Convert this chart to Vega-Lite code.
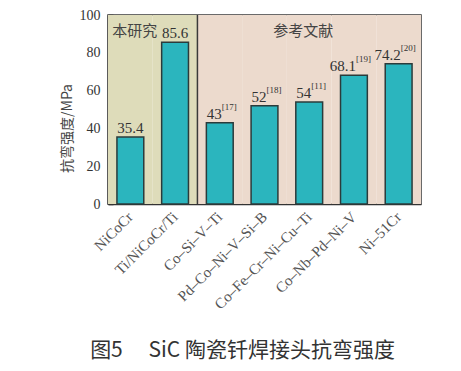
{
  "$schema": "https://vega.github.io/schema/vega-lite/v6.json",
  "width": 313,
  "height": 189,
  "autosize": {"type": "none"},
  "padding": {"left": 108, "top": 15, "right": 40, "bottom": 167},
  "background": "white",
  "config": {
    "view": {"stroke": "#3a3a3a", "strokeWidth": 1.5},
    "font": "Liberation Serif"
  },
  "title": {
    "text": "图5　 SiC 陶瓷钎焊接头抗弯强度",
    "orient": "bottom",
    "anchor": "middle",
    "offset": 28,
    "dx": -22,
    "font": "Noto Sans CJK SC",
    "fontSize": 21,
    "fontWeight": "normal",
    "color": "#333333"
  },
  "resolve": {"scale": {"y": "independent"}, "axis": {"y": "independent"}},
  "datasets": {
    "bars": [
      {"cat": "NiCoCr", "value": 35.4, "label": "35.4", "ref": "", "group": "本研究"},
      {"cat": "Ti/NiCoCr/Ti", "value": 85.6, "label": "85.6", "ref": "", "group": "本研究"},
      {"cat": "Co–Si–V–Ti", "value": 43, "label": "43", "ref": "[17]", "group": "参考文献"},
      {"cat": "Pd–Co–Ni–V–Si–B", "value": 52, "label": "52", "ref": "[18]", "group": "参考文献"},
      {"cat": "Co–Fe–Cr–Ni–Cu–Ti", "value": 54, "label": "54", "ref": "[11]", "group": "参考文献"},
      {"cat": "Co–Nb–Pd–Ni–V", "value": 68.1, "label": "68.1", "ref": "[19]", "group": "参考文献"},
      {"cat": "Ni–51Cr", "value": 74.2, "label": "74.2", "ref": "[20]", "group": "参考文献"}
    ]
  },
  "layer": [
    {
      "data": {"name": "bars"},
      "mark": {"type": "bar", "strokeWidth": 0},
      "encoding": {
        "x": {
          "field": "cat", "type": "nominal", "sort": null,
          "scale": {"domain": ["NiCoCr", "Ti/NiCoCr/Ti", "Co–Si–V–Ti", "Pd–Co–Ni–V–Si–B", "Co–Fe–Cr–Ni–Cu–Ti", "Co–Nb–Pd–Ni–V", "Ni–51Cr"], "paddingInner": 0, "paddingOuter": 0},
          "axis": {
            "title": null, "labelAngle": -45, "labelAlign": "right", "labelBaseline": "middle",
            "ticks": false, "labelPadding": 10, "labelFontSize": 15, "labelColor": "#555555",
            "labelFont": "Liberation Serif", "domainColor": "#333333", "domainWidth": 1.5
          }
        },
        "color": {"field": "group", "type": "nominal",
          "scale": {"domain": ["本研究", "参考文献"], "range": ["#dedcba", "#ecdacd"]},
          "legend": null}
      }
    },
    {
      "data": {"name": "bars"},
      "transform": [{"filter": "datum.cat === 'Co–Si–V–Ti'"}],
      "mark": {"type": "rule", "color": "#3a3a3a", "strokeWidth": 1.5},
      "encoding": {
        "x": {"field": "cat", "type": "nominal", "sort": null, "bandPosition": 0}
      }
    },
    {
      "data": {"name": "bars"},
      "mark": {"type": "bar", "width": {"band": 0.6}, "fill": "#2bb5be", "stroke": "#2b3b3b", "strokeWidth": 1.5},
      "encoding": {
        "x": {"field": "cat", "type": "nominal", "sort": null},
        "y": {"field": "value", "type": "quantitative",
          "scale": {"domain": [0, 100], "nice": false},
          "axis": {
            "title": "抗弯强度/MPa", "values": [0, 20, 40, 60, 80, 100], "tickCount": 6, "tickSize": -5,
            "labelOverlap": false, "labelFlush": false,
            "grid": false, "domainColor": "#333333", "domainWidth": 1.5, "tickColor": "#333333", "tickWidth": 1.5,
            "labelFont": "Liberation Serif", "labelFontSize": 14, "labelColor": "#333333", "labelPadding": 13,
            "titleFont": "Noto Sans CJK SC", "titleFontSize": 14, "titleFontWeight": "normal", "titleColor": "#444444", "titlePadding": 5,
            "titleY": 113
          }
        }
      }
    },
    {
      "data": {"name": "bars"},
      "transform": [{"filter": "datum.ref === ''"}],
      "mark": {"type": "text", "align": "center", "baseline": "alphabetic", "dy": -4, "fontSize": 15, "font": "Liberation Serif", "color": "#333333"},
      "encoding": {
        "x": {"field": "cat", "type": "nominal", "sort": null},
        "y": {"field": "value", "type": "quantitative", "scale": {"domain": [0, 100], "nice": false}, "axis": null},
        "text": {"field": "label", "type": "nominal"}
      }
    },
    {
      "data": {"name": "bars"},
      "transform": [{"filter": "datum.ref !== ''"}],
      "mark": {"type": "text", "align": "right", "baseline": "alphabetic", "dx": 2, "dy": -4, "fontSize": 15, "font": "Liberation Serif", "color": "#333333"},
      "encoding": {
        "x": {"field": "cat", "type": "nominal", "sort": null},
        "y": {"field": "value", "type": "quantitative", "scale": {"domain": [0, 100], "nice": false}, "axis": null},
        "text": {"field": "label", "type": "nominal"}
      }
    },
    {
      "data": {"name": "bars"},
      "transform": [{"filter": "datum.ref !== ''"}],
      "mark": {"type": "text", "align": "left", "baseline": "alphabetic", "dx": 2, "dy": -13, "fontSize": 9, "font": "Liberation Serif", "color": "#333333"},
      "encoding": {
        "x": {"field": "cat", "type": "nominal", "sort": null},
        "y": {"field": "value", "type": "quantitative", "scale": {"domain": [0, 100], "nice": false}, "axis": null},
        "text": {"field": "ref", "type": "nominal"}
      }
    },
    {
      "data": {"values": [{"cat": "NiCoCr", "note": "本研究"}]},
      "mark": {"type": "text", "align": "left", "baseline": "middle", "dx": -18, "fontSize": 15, "font": "Noto Sans CJK SC", "color": "#444444"},
      "encoding": {
        "x": {"field": "cat", "type": "nominal", "sort": null},
        "y": {"datum": 91.5, "type": "quantitative", "scale": {"domain": [0, 100], "nice": false}, "axis": null},
        "text": {"field": "note", "type": "nominal"}
      }
    },
    {
      "data": {"values": [{"cat": "Co–Fe–Cr–Ni–Cu–Ti", "note": "参考文献"}]},
      "mark": {"type": "text", "align": "center", "baseline": "middle", "dx": -6, "fontSize": 15, "font": "Noto Sans CJK SC", "color": "#444444"},
      "encoding": {
        "x": {"field": "cat", "type": "nominal", "sort": null},
        "y": {"datum": 91.5, "type": "quantitative", "scale": {"domain": [0, 100], "nice": false}, "axis": null},
        "text": {"field": "note", "type": "nominal"}
      }
    }
  ]
}
